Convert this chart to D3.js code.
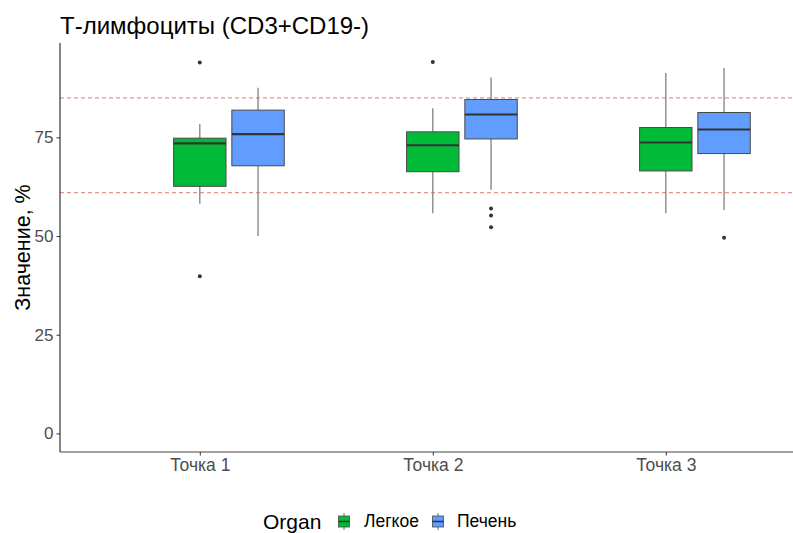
<!DOCTYPE html>
<html>
<head>
<meta charset="utf-8">
<script src="https://cdn.jsdelivr.net/npm/d3@7"></script>
<style>
  html, body { margin: 0; padding: 0; background: #fff; }
  svg { display: block; font-family: "Liberation Sans", Arial, sans-serif; }
</style>
</head>
<body>
<svg id="chart" width="793" height="533"></svg>
<script>
// Time points on the x axis and the two organs compared at each one
const points = ["Точка 1", "Точка 2", "Точка 3"];
const organs = ["Легкое", "Печень"];
const organColors = ["#00BA38", "#619CFF"];

// Five-number summaries per time point (whisker low, Q1, median, Q3, whisker high)
const lungLow  = [58.2, 55.8, 55.8];
const lungQ1   = [62.6, 66.3, 66.5];
const lungMed  = [73.5, 73.0, 73.7];
const lungQ3   = [74.8, 76.4, 77.5];
const lungHigh = [78.4, 82.4, 91.3];

const liverLow  = [50.0, 61.7, 56.6];
const liverQ1   = [67.8, 74.6, 70.9];
const liverMed  = [75.8, 80.8, 77.0];
const liverQ3   = [81.9, 84.6, 81.3];
const liverHigh = [87.6, 90.2, 92.6];

// Outlying observations per time point
const lungOutliers  = [[94.0, 39.8], [94.1], []];
const liverOutliers = [[], [57.0, 55.2, 52.2], [49.6]];

// Reference range limits
const refLines = [61, 85];
const yTicks = [0, 25, 50, 75];

const svg = d3.select("#chart");

// Panel geometry
const panelLeft = 60, panelTop = 43, panelBottom = 452, panelRight = 793;

// y: data range 0..94.2 with 5% expansion on each side
const dataMin = 0, dataMax = 94.2, pad = (dataMax - dataMin) * 0.05;
const y = d3.scaleLinear().domain([dataMin - pad, dataMax + pad]).range([panelBottom, panelTop]);

// x: discrete positions with 0.6 step padding on each end
const x = d3.scalePoint().domain(points).range([panelLeft, panelLeft + 3.2 * 233]).padding(0.6);
const step = x.step();
const boxW = 0.225 * step;
const organOffset = [0, 0.25 * step];

const series = [
  { organ: organs[0], color: organColors[0], low: lungLow, q1: lungQ1, med: lungMed, q3: lungQ3, high: lungHigh, out: lungOutliers },
  { organ: organs[1], color: organColors[1], low: liverLow, q1: liverQ1, med: liverMed, q3: liverQ3, high: liverHigh, out: liverOutliers }
];

// Reference dashed lines
svg.append("g").selectAll("line").data(refLines).join("line")
  .attr("x1", panelLeft).attr("x2", panelRight)
  .attr("y1", d => y(d)).attr("y2", d => y(d))
  .attr("stroke", "#D9716E").attr("stroke-opacity", 0.75)
  .attr("stroke-width", 1.2).attr("stroke-dasharray", "4,3");

// Boxplots
series.forEach((s, si) => {
  const g = svg.append("g");
  points.forEach((p, i) => {
    const cx = x(p) + organOffset[si];
    // whiskers
    g.append("line").attr("x1", cx).attr("x2", cx)
      .attr("y1", y(s.high[i])).attr("y2", y(s.q3[i]))
      .attr("stroke", "#808080").attr("stroke-width", 1.3);
    g.append("line").attr("x1", cx).attr("x2", cx)
      .attr("y1", y(s.q1[i])).attr("y2", y(s.low[i]))
      .attr("stroke", "#808080").attr("stroke-width", 1.3);
    // box
    g.append("rect")
      .attr("x", cx - boxW / 2).attr("width", boxW)
      .attr("y", y(s.q3[i])).attr("height", y(s.q1[i]) - y(s.q3[i]))
      .attr("fill", s.color).attr("stroke", "#4a4a4a").attr("stroke-width", 1);
    // median
    g.append("line")
      .attr("x1", cx - boxW / 2).attr("x2", cx + boxW / 2)
      .attr("y1", y(s.med[i])).attr("y2", y(s.med[i]))
      .attr("stroke", "#333").attr("stroke-width", 2.2);
    // outliers
    g.selectAll(null).data(s.out[i]).join("circle")
      .attr("cx", cx).attr("cy", d => y(d)).attr("r", 2)
      .attr("fill", "#333");
  });
});

// Y axis
const yAxis = svg.append("g").attr("transform", `translate(${panelLeft},0)`)
  .call(d3.axisLeft(y).tickValues(yTicks).tickSize(3.5).tickPadding(3));
yAxis.select(".domain").attr("stroke", "#222").attr("stroke-width", 1.1)
  .attr("d", `M0,${panelTop}V${panelBottom}`);
yAxis.selectAll(".tick line").attr("stroke", "#333");
yAxis.selectAll(".tick text").attr("fill", "#4D4D4D").style("font-size", "17px")
  .style("font-family", "'Liberation Sans', Arial, sans-serif");

// X axis
const xAxis = svg.append("g").attr("transform", `translate(0,${panelBottom})`)
  .call(d3.axisBottom(x).tickSize(3.5).tickPadding(3));
xAxis.select(".domain").attr("stroke", "#444").attr("stroke-width", 1.1)
  .attr("d", `M${panelLeft},0H${panelRight}`);
xAxis.selectAll(".tick line").attr("stroke", "#333");
xAxis.selectAll(".tick text").attr("fill", "#4D4D4D").style("font-size", "17.5px")
  .style("font-family", "'Liberation Sans', Arial, sans-serif");

// Title
svg.append("text").attr("x", 60).attr("y", 34)
  .attr("fill", "#000").style("font-size", "24px")
  .text("Т-лимфоциты (CD3+CD19-)");

// Y axis title
svg.append("text")
  .attr("transform", `translate(30,${(panelTop + panelBottom) / 2}) rotate(-90)`)
  .attr("text-anchor", "middle").attr("fill", "#000").style("font-size", "21.5px")
  .text("Значение, %");

// Legend
const legend = svg.append("g");
legend.append("text").attr("x", 263).attr("y", 529)
  .attr("fill", "#000").style("font-size", "21px").text("Organ");
const keyX = [344, 438];
const labelX = [364, 457];
organs.forEach((o, i) => {
  const kx = keyX[i];
  legend.append("line").attr("x1", kx).attr("x2", kx).attr("y1", 513).attr("y2", 530)
    .attr("stroke", "#808080").attr("stroke-width", 1.2);
  legend.append("rect").attr("x", kx - 5.5).attr("y", 516).attr("width", 11).attr("height", 11)
    .attr("fill", organColors[i]).attr("stroke", "#4a4a4a").attr("stroke-width", 0.8);
  legend.append("line").attr("x1", kx - 5.5).attr("x2", kx + 5.5).attr("y1", 521.5).attr("y2", 521.5)
    .attr("stroke", "#333").attr("stroke-width", 1.5);
  legend.append("text").attr("x", labelX[i]).attr("y", 527)
    .attr("fill", "#000").style("font-size", "17.5px").text(o);
});
</script>
</body>
</html>
